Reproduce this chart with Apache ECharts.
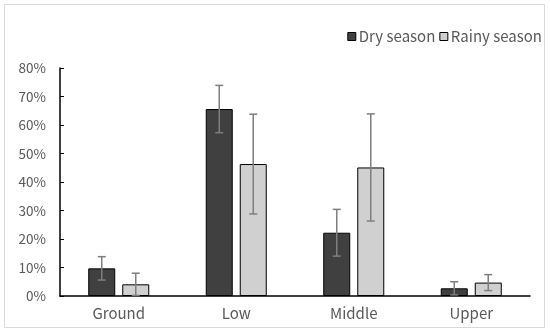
<!DOCTYPE html>
<html><head><meta charset="utf-8">
<script src="https://cdn.jsdelivr.net/npm/echarts@6/dist/echarts.min.js"></script>
<style>html,body{margin:0;padding:0;background:#fff}#c{width:550px;height:335px}</style>
</head><body><div id="c"></div>
<script>
var categories = ['Ground', 'Low', 'Middle', 'Upper'];
var dryValues = [9.7, 65.6, 22.2, 2.7];
var dryErrors = [4.1, 8.3, 8.2, 2.3];
var rainyValues = [4.1, 46.3, 45.1, 4.7];
var rainyErrors = [3.9, 17.5, 18.8, 2.8];
var yTicks = [0, 10, 20, 30, 40, 50, 60, 70, 80];

var FONT = 'Noto Sans CJK SC';
var BAR_W = 27, OFFSET = 17;

function errData(vals, errs) {
  return vals.map(function (v, i) { return [i, v - errs[i], v + errs[i]]; });
}
function errSeries(vals, errs, off) {
  return {
    type: 'custom', z: 10, silent: true,
    data: errData(vals, errs),
    encode: { x: 0, y: [1, 2] },
    renderItem: function (params, api) {
      var lo = api.coord([api.value(0), api.value(1)]);
      var hi = api.coord([api.value(0), api.value(2)]);
      var x = lo[0] + off, cap = 4;
      var st = { stroke: '#7f7f7f', lineWidth: 1.5 };
      return { type: 'group', children: [
        { type: 'line', shape: { x1: x, y1: lo[1], x2: x, y2: hi[1] }, style: st },
        { type: 'line', shape: { x1: x - cap, y1: lo[1], x2: x + cap, y2: lo[1] }, style: st },
        { type: 'line', shape: { x1: x - cap, y1: hi[1], x2: x + cap, y2: hi[1] }, style: st }
      ]};
    }
  };
}

var chart = echarts.init(document.getElementById('c'));
chart.setOption({
  animation: false,
  textStyle: { fontFamily: FONT },
  graphic: [{ type: 'rect', shape: { x: 4.5, y: 4.5, width: 540, height: 323 },
    style: { fill: 'none', stroke: '#d9d9d9', lineWidth: 1 }, silent: true }],
  legend: {
    right: 3, top: 24, itemWidth: 8, itemHeight: 8, itemGap: 4,
    textStyle: { color: '#595959', fontSize: 15, fontFamily: FONT, padding: [0, 0, 0, -2] },
    data: [
      { name: 'Dry season', icon: 'rect', itemStyle: { color: '#404040', borderColor: '#000', borderWidth: 1 } },
      { name: 'Rainy season', icon: 'rect', itemStyle: { color: '#d0d0d0', borderColor: '#000', borderWidth: 1 } }
    ]
  },
  grid: { left: 60, right: 20, top: 68, bottom: 39 },
  xAxis: {
    type: 'category', data: categories,
    axisLine: { lineStyle: { color: '#000', width: 1.5 } },
    axisTick: { inside: true, length: 4, lineStyle: { color: '#000' } },
    axisLabel: { color: '#595959', fontSize: 15, fontFamily: FONT, margin: 10 }
  },
  yAxis: {
    type: 'value', min: 0, max: 80, interval: 10,
    axisLine: { show: true, lineStyle: { color: '#000', width: 1.5 } },
    axisTick: { show: true, inside: true, length: 4, lineStyle: { color: '#000' } },
    splitLine: { show: false },
    axisLabel: { color: '#595959', fontSize: 13.5, fontFamily: FONT, margin: 14,
      formatter: function (v) { return yTicks.indexOf(v) >= 0 ? v + '%' : ''; } }
  },
  series: [
    { name: 'Dry season', type: 'bar', data: dryValues, barWidth: BAR_W, barGap: '26%',
      itemStyle: { color: '#404040', borderColor: '#000', borderWidth: 1 } },
    { name: 'Rainy season', type: 'bar', data: rainyValues, barWidth: BAR_W, barGap: '26%',
      itemStyle: { color: '#d0d0d0', borderColor: '#000', borderWidth: 1 } },
    errSeries(dryValues, dryErrors, -OFFSET),
    errSeries(rainyValues, rainyErrors, OFFSET)
  ]
});
</script></body></html>
